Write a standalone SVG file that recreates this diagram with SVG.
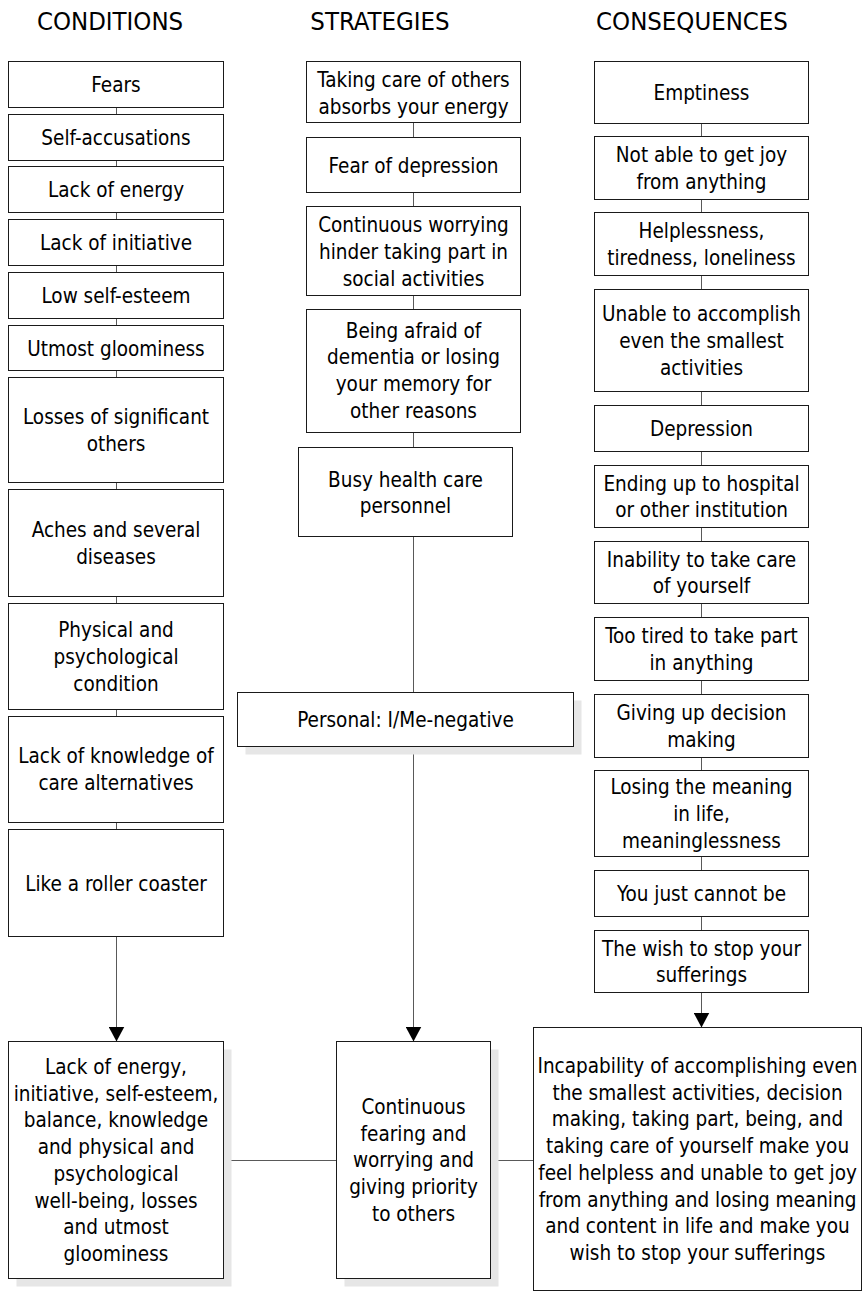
<svg xmlns="http://www.w3.org/2000/svg" width="863" height="1293" viewBox="0 0 863 1293">
  <style>
    .box { fill: #ffffff; stroke: #1a1a1a; stroke-width: 1; }
    .shadow { fill: #e6e6e6; stroke: none; }
    .lbl { font-family: "DejaVu Sans Condensed", "Liberation Sans", sans-serif; font-size: 20.5px; fill: #000000; text-anchor: middle; }
    .head { font-family: "DejaVu Sans Condensed", "Liberation Sans", sans-serif; font-size: 25.5px; fill: #000000; text-anchor: middle; }
    .link { stroke: #595959; stroke-width: 1; fill: none; }
  </style>
  <defs>
    <!-- solid triangular head, drawn along +x so orient="auto" follows the line -->
    <marker id="arrow" markerUnits="userSpaceOnUse" markerWidth="15" markerHeight="16" viewBox="0 0 15 16" refX="15" refY="8" orient="auto">
      <path d="M0,0 L15,8 L0,16 Z" fill="#000000"/>
    </marker>
  </defs>
  <rect width="863" height="1293" fill="#ffffff"/>

  <!-- column headings -->
  <g id="headings">
    <text class="head" x="110" y="30">CONDITIONS</text>
    <text class="head" x="380" y="30">STRATEGIES</text>
    <text class="head" x="692" y="30">CONSEQUENCES</text>
  </g>

  <!-- connectors -->
  <g id="connectors">
    <!-- conditions column -->
    <line class="link" x1="116.5" y1="107.5" x2="116.5" y2="114.5"/>
    <line class="link" x1="116.5" y1="160.5" x2="116.5" y2="166.5"/>
    <line class="link" x1="116.5" y1="212.5" x2="116.5" y2="219.5"/>
    <line class="link" x1="116.5" y1="265.5" x2="116.5" y2="272.5"/>
    <line class="link" x1="116.5" y1="318.5" x2="116.5" y2="325.5"/>
    <line class="link" x1="116.5" y1="370.5" x2="116.5" y2="377.5"/>
    <line class="link" x1="116.5" y1="482.5" x2="116.5" y2="489.5"/>
    <line class="link" x1="116.5" y1="596.5" x2="116.5" y2="603.5"/>
    <line class="link" x1="116.5" y1="709.5" x2="116.5" y2="716.5"/>
    <line class="link" x1="116.5" y1="822.5" x2="116.5" y2="829.5"/>
    <line class="link" x1="116.5" y1="936.5" x2="116.5" y2="1041.5" marker-end="url(#arrow)"/>
    <!-- strategies column -->
    <line class="link" x1="413.5" y1="122.5" x2="413.5" y2="137.5"/>
    <line class="link" x1="413.5" y1="192.5" x2="413.5" y2="206.5"/>
    <line class="link" x1="413.5" y1="295.5" x2="413.5" y2="309.5"/>
    <line class="link" x1="413.5" y1="432.5" x2="413.5" y2="447.5"/>
    <line class="link" x1="413.5" y1="536.5" x2="413.5" y2="692.5"/>
    <line class="link" x1="413.5" y1="746.5" x2="413.5" y2="1041.5" marker-end="url(#arrow)"/>
    <!-- consequences column -->
    <line class="link" x1="701.5" y1="123.5" x2="701.5" y2="136.5"/>
    <line class="link" x1="701.5" y1="199.5" x2="701.5" y2="212.5"/>
    <line class="link" x1="701.5" y1="275.5" x2="701.5" y2="289.5"/>
    <line class="link" x1="701.5" y1="391.5" x2="701.5" y2="405.5"/>
    <line class="link" x1="701.5" y1="451.5" x2="701.5" y2="465.5"/>
    <line class="link" x1="701.5" y1="527.5" x2="701.5" y2="541.5"/>
    <line class="link" x1="701.5" y1="603.5" x2="701.5" y2="617.5"/>
    <line class="link" x1="701.5" y1="680.5" x2="701.5" y2="694.5"/>
    <line class="link" x1="701.5" y1="757.5" x2="701.5" y2="770.5"/>
    <line class="link" x1="701.5" y1="856.5" x2="701.5" y2="870.5"/>
    <line class="link" x1="701.5" y1="916.5" x2="701.5" y2="930.5"/>
    <line class="link" x1="701.5" y1="992.5" x2="701.5" y2="1027.5" marker-end="url(#arrow)"/>
    <!-- summary row -->
    <line class="link" x1="223.5" y1="1160.5" x2="336.5" y2="1160.5"/>
    <line class="link" x1="490.5" y1="1160.5" x2="533.5" y2="1160.5"/>
  </g>

  <!-- conditions -->
  <g id="c-fears"><rect class="box" x="8.5" y="61.5" width="215" height="46"/><text class="lbl" x="116" y="92">Fears</text></g>
  <g id="c-self-accusations"><rect class="box" x="8.5" y="114.5" width="215" height="46"/><text class="lbl" x="116" y="145">Self-accusations</text></g>
  <g id="c-lack-energy"><rect class="box" x="8.5" y="166.5" width="215" height="46"/><text class="lbl" x="116" y="197">Lack of energy</text></g>
  <g id="c-lack-initiative"><rect class="box" x="8.5" y="219.5" width="215" height="46"/><text class="lbl" x="116" y="250">Lack of initiative</text></g>
  <g id="c-low-self-esteem"><rect class="box" x="8.5" y="272.5" width="215" height="46"/><text class="lbl" x="116" y="303">Low self-esteem</text></g>
  <g id="c-utmost-gloominess"><rect class="box" x="8.5" y="325.5" width="215" height="45"/><text class="lbl" x="116" y="355.5">Utmost gloominess</text></g>
  <g id="c-losses"><rect class="box" x="8.5" y="377.5" width="215" height="105"/><text class="lbl" x="116" y="424.2">Losses of significant<tspan x="116" dy="26.7">others</tspan></text></g>
  <g id="c-aches"><rect class="box" x="8.5" y="489.5" width="215" height="107"/><text class="lbl" x="116" y="537.2">Aches and several<tspan x="116" dy="26.7">diseases</tspan></text></g>
  <g id="c-physical"><rect class="box" x="8.5" y="603.5" width="215" height="106"/><text class="lbl" x="116" y="637.3">Physical and<tspan x="116" dy="26.7">psychological</tspan><tspan x="116" dy="26.7">condition</tspan></text></g>
  <g id="c-knowledge"><rect class="box" x="8.5" y="716.5" width="215" height="106"/><text class="lbl" x="116" y="763">Lack of knowledge of<tspan x="116" dy="26.7">care alternatives</tspan></text></g>
  <g id="c-roller-coaster"><rect class="box" x="8.5" y="829.5" width="215" height="107"/><text class="lbl" x="116" y="890.5">Like a roller coaster</text></g>
  <g id="c-summary">
    <rect class="shadow" x="16.5" y="1049.5" width="215" height="237"/>
    <rect class="box" x="8.5" y="1041.5" width="215" height="237"/>
    <text class="lbl" x="116" y="1074">Lack of energy,<tspan x="116" dy="26.7">initiative, self-esteem,</tspan><tspan x="116" dy="26.7">balance, knowledge</tspan><tspan x="116" dy="26.7">and physical and</tspan><tspan x="116" dy="26.7">psychological</tspan><tspan x="116" dy="26.7">well-being, losses</tspan><tspan x="116" dy="26.7">and utmost</tspan><tspan x="116" dy="26.7">gloominess</tspan></text>
  </g>

  <!-- strategies -->
  <g id="s-taking-care"><rect class="box" x="306.5" y="61.5" width="214" height="61"/><text class="lbl" x="413.5" y="87">Taking care of others<tspan x="413.5" dy="26.7">absorbs your energy</tspan></text></g>
  <g id="s-fear-depression"><rect class="box" x="306.5" y="137.5" width="214" height="55"/><text class="lbl" x="413.5" y="172.5">Fear of depression</text></g>
  <g id="s-worrying"><rect class="box" x="306.5" y="206.5" width="214" height="89"/><text class="lbl" x="413.5" y="232.3">Continuous worrying<tspan x="413.5" dy="26.7">hinder taking part in</tspan><tspan x="413.5" dy="26.7">social activities</tspan></text></g>
  <g id="s-dementia"><rect class="box" x="306.5" y="309.5" width="214" height="123"/><text class="lbl" x="413.5" y="337.5">Being afraid of<tspan x="413.5" dy="26.7">dementia or losing</tspan><tspan x="413.5" dy="26.7">your memory for</tspan><tspan x="413.5" dy="26.7">other reasons</tspan></text></g>
  <g id="s-busy-personnel"><rect class="box" x="298.5" y="447.5" width="214" height="89"/><text class="lbl" x="405.5" y="486.5">Busy health care<tspan x="405.5" dy="26.7">personnel</tspan></text></g>
  <g id="s-personal">
    <rect class="shadow" x="245.5" y="700.5" width="336" height="54"/>
    <rect class="box" x="237.5" y="692.5" width="336" height="54"/>
    <text class="lbl" x="405.5" y="727">Personal: I/Me-negative</text>
  </g>
  <g id="s-summary">
    <rect class="shadow" x="344.5" y="1049.5" width="154" height="237"/>
    <rect class="box" x="336.5" y="1041.5" width="154" height="237"/>
    <text class="lbl" x="413.5" y="1114">Continuous<tspan x="413.5" dy="26.7">fearing and</tspan><tspan x="413.5" dy="26.7">worrying and</tspan><tspan x="413.5" dy="26.7">giving priority</tspan><tspan x="413.5" dy="26.7">to others</tspan></text>
  </g>

  <!-- consequences -->
  <g id="q-emptiness"><rect class="box" x="594.5" y="61.5" width="214" height="62"/><text class="lbl" x="701.5" y="100">Emptiness</text></g>
  <g id="q-no-joy"><rect class="box" x="594.5" y="136.5" width="214" height="63"/><text class="lbl" x="701.5" y="162.2">Not able to get joy<tspan x="701.5" dy="26.7">from anything</tspan></text></g>
  <g id="q-helplessness"><rect class="box" x="594.5" y="212.5" width="214" height="63"/><text class="lbl" x="701.5" y="238.2">Helplessness,<tspan x="701.5" dy="26.7">tiredness, loneliness</tspan></text></g>
  <g id="q-unable"><rect class="box" x="594.5" y="289.5" width="214" height="102"/><text class="lbl" x="701.5" y="321.3">Unable to accomplish<tspan x="701.5" dy="26.7">even the smallest</tspan><tspan x="701.5" dy="26.7">activities</tspan></text></g>
  <g id="q-depression"><rect class="box" x="594.5" y="405.5" width="214" height="46"/><text class="lbl" x="701.5" y="436">Depression</text></g>
  <g id="q-hospital"><rect class="box" x="594.5" y="465.5" width="214" height="62"/><text class="lbl" x="701.5" y="490.7">Ending up to hospital<tspan x="701.5" dy="26.7">or other institution</tspan></text></g>
  <g id="q-self-care"><rect class="box" x="594.5" y="541.5" width="214" height="62"/><text class="lbl" x="701.5" y="566.7">Inability to take care<tspan x="701.5" dy="26.7">of yourself</tspan></text></g>
  <g id="q-too-tired"><rect class="box" x="594.5" y="617.5" width="214" height="63"/><text class="lbl" x="701.5" y="643.2">Too tired to take part<tspan x="701.5" dy="26.7">in anything</tspan></text></g>
  <g id="q-decisions"><rect class="box" x="594.5" y="694.5" width="214" height="63"/><text class="lbl" x="701.5" y="720.2">Giving up decision<tspan x="701.5" dy="26.7">making</tspan></text></g>
  <g id="q-meaning"><rect class="box" x="594.5" y="770.5" width="214" height="86"/><text class="lbl" x="701.5" y="794.3">Losing the meaning<tspan x="701.5" dy="26.7">in life,</tspan><tspan x="701.5" dy="26.7">meaninglessness</tspan></text></g>
  <g id="q-cannot-be"><rect class="box" x="594.5" y="870.5" width="214" height="46"/><text class="lbl" x="701.5" y="901">You just cannot be</text></g>
  <g id="q-stop-suffering"><rect class="box" x="594.5" y="930.5" width="214" height="62"/><text class="lbl" x="701.5" y="955.7">The wish to stop your<tspan x="701.5" dy="26.7">sufferings</tspan></text></g>
  <g id="q-summary">
    <rect class="box" x="533.5" y="1027.5" width="328" height="263"/>
    <text class="lbl" x="697.5" y="1073">Incapability of accomplishing even<tspan x="697.5" dy="26.7">the smallest activities, decision</tspan><tspan x="697.5" dy="26.7">making, taking part, being, and</tspan><tspan x="697.5" dy="26.7">taking care of yourself make you</tspan><tspan x="697.5" dy="26.7">feel helpless and unable to get joy</tspan><tspan x="697.5" dy="26.7">from anything and losing meaning</tspan><tspan x="697.5" dy="26.7">and content in life and make you</tspan><tspan x="697.5" dy="26.7">wish to stop your sufferings</tspan></text>
  </g>
</svg>
